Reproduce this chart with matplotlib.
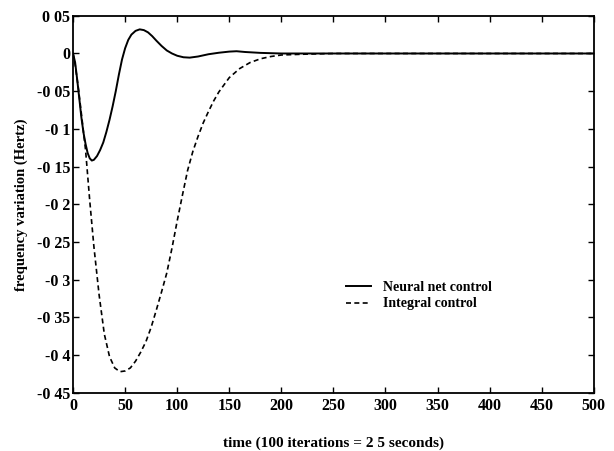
import numpy as np
import matplotlib
matplotlib.use("Agg")
from matplotlib import pyplot as plt

# neural net controller response
t_neural = [0, 2, 4, 6, 8, 10, 12, 14, 16, 18, 20, 23, 26, 29, 32, 35, 38, 41, 44, 47,
            50, 53, 56, 60, 64, 68, 72, 76, 80, 85, 90, 95, 100, 106, 112, 120, 130,
            140, 150, 157, 165, 180, 200, 500]
f_neural = [0, -0.012, -0.035, -0.06, -0.085, -0.105, -0.12, -0.132, -0.139, -0.142,
            -0.141, -0.136, -0.128, -0.118, -0.104, -0.088, -0.07, -0.05, -0.028, -0.008,
            0.007, 0.018, 0.025, 0.030, 0.032, 0.031, 0.028, 0.023, 0.017, 0.010, 0.004,
            0.0, -0.003, -0.005, -0.0055, -0.004, -0.001, 0.001, 0.0025, 0.003, 0.002,
            0.0008, 0.0, 0.0]

# integral controller response
t_integral = [0, 2, 5, 8, 12, 16, 20, 25, 30, 35, 40, 45, 50, 55, 60, 65, 70, 75, 80,
              85, 90, 95, 100, 105, 110, 115, 120, 125, 130, 135, 140, 150, 160, 170,
              180, 190, 200, 220, 250, 500]
f_integral = [0, -0.015, -0.045, -0.08, -0.128, -0.195, -0.256, -0.32, -0.372, -0.402,
              -0.417, -0.422, -0.421, -0.417, -0.408, -0.396, -0.382, -0.363, -0.34,
              -0.316, -0.291, -0.258, -0.222, -0.188, -0.155, -0.13, -0.11, -0.092,
              -0.077, -0.063, -0.051, -0.032, -0.02, -0.012, -0.007, -0.004, -0.002,
              -0.001, 0.0, 0.0]

xticks = [0, 50, 100, 150, 200, 250, 300, 350, 400, 450, 500]
yticks = [0.05, 0, -0.05, -0.1, -0.15, -0.2, -0.25, -0.3, -0.35, -0.4, -0.45]
ytick_labels = ["0 05", "0", "-0 05", "-0 1", "-0 15", "-0 2", "-0 25", "-0 3",
                "-0 35", "-0 4", "-0 45"]

plt.rcParams['font.family'] = ['Liberation Serif', 'DejaVu Serif']
plt.rcParams['font.weight'] = 'bold'

fig = plt.figure(figsize=(6.14, 4.51), dpi=100)
ax = fig.add_axes([0.119, 0.129, 0.848, 0.836])

ax.plot(t_neural, f_neural, color='black', lw=1.4, label='Neural net control')
ax.plot(t_integral, f_integral, color='black', lw=1.2, dashes=(3, 2), label='Integral control')

ax.set_xlim(0, 500)
ax.set_ylim(-0.45, 0.05)
ax.set_xticks(xticks)
ax.set_xticklabels([str(v) for v in xticks], fontsize=11.5, fontweight='bold')
ax.set_yticks(yticks)
ax.set_yticklabels(ytick_labels, fontsize=11.5, fontweight='bold')
ax.tick_params(direction='in', top=True, right=True, length=4, width=1, pad=2)
ax.tick_params(axis='x', pad=4)
for sp in ax.spines.values():
    sp.set_linewidth(1.3)

ax.set_xlabel('time (100 iterations = 2 5 seconds)', fontsize=11, fontweight='bold', labelpad=16)
ax.set_ylabel('frequency variation (Hertz)', fontsize=10.5, fontweight='bold', labelpad=6)

leg = ax.legend(loc='upper left', bbox_to_anchor=(0.5, 0.33), frameon=False,
                handlelength=1.8, handletextpad=0.9, fontsize=10, labelspacing=0.25)

fig.savefig('out.png', dpi=100)
